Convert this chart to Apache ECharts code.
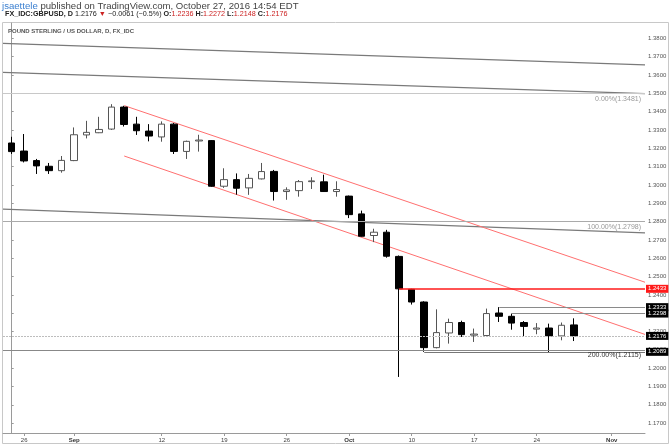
<!DOCTYPE html>
<html><head><meta charset="utf-8">
<script src="https://cdn.jsdelivr.net/npm/echarts@6/dist/echarts.min.js"></script>
<style>html,body{margin:0;padding:0;background:#fff}#c{width:671px;height:447px}</style>
</head><body><div id="c"></div>
<script>
// trading days (index = position on the time scale)
const dates = ['2016-08-25','2016-08-26','2016-08-29','2016-08-30','2016-08-31','2016-09-01','2016-09-02',
 '2016-09-05','2016-09-06','2016-09-07','2016-09-08','2016-09-09','2016-09-12','2016-09-13','2016-09-14',
 '2016-09-15','2016-09-16','2016-09-19','2016-09-20','2016-09-21','2016-09-22','2016-09-23','2016-09-26',
 '2016-09-27','2016-09-28','2016-09-29','2016-09-30','2016-10-03','2016-10-04','2016-10-05','2016-10-06',
 '2016-10-07','2016-10-10','2016-10-11','2016-10-12','2016-10-13','2016-10-14','2016-10-17','2016-10-18',
 '2016-10-19','2016-10-20','2016-10-21','2016-10-24','2016-10-25','2016-10-26','2016-10-27','2016-10-28',
 '2016-10-31','2016-11-01'];
const open  = [1.3229,1.3185,1.3133,1.3102,1.3078,1.3133,1.3273,1.3285,1.3305,1.3425,1.3332,1.3294,1.3262,1.3332,1.3183,1.3240,1.3242,1.2993,1.3029,1.2984,1.3033,1.3074,1.2964,1.2969,1.3018,1.3017,1.2964,1.2939,1.2842,1.2724,1.2742,1.2610,1.2430,1.2361,1.2112,1.2192,1.2249,1.2180,1.2178,1.2301,1.2283,1.2249,1.2213,1.2219,1.2176,1.2236];
const high  = [1.3263,1.3278,1.3142,1.3120,1.3158,1.3314,1.3350,1.3372,1.3441,1.3432,1.3372,1.3332,1.3347,1.3338,1.3242,1.3274,1.3245,1.3091,1.3063,1.3060,1.3120,1.3082,1.2987,1.3027,1.3042,1.3056,1.3020,1.2942,1.2860,1.2761,1.2755,1.2615,1.2433,1.2365,1.2321,1.2270,1.2259,1.2216,1.2325,1.2333,1.2298,1.2257,1.2246,1.2243,1.2249,1.2272];
const low   = [1.3169,1.3123,1.3060,1.3060,1.3067,1.3130,1.3254,1.3283,1.3300,1.3319,1.3273,1.3238,1.3236,1.3169,1.3142,1.3182,1.2990,1.2984,1.2947,1.2946,1.3030,1.2915,1.2919,1.2936,1.2978,1.2962,1.2936,1.2819,1.2718,1.2688,1.2603,1.1952,1.2347,1.2089,1.2108,1.2134,1.2170,1.2143,1.2175,1.2252,1.2210,1.2174,1.2185,1.2085,1.2152,1.2148];
const close = [1.3182,1.3131,1.3104,1.3078,1.3134,1.3274,1.3287,1.3303,1.3425,1.3330,1.3296,1.3267,1.3332,1.3183,1.3238,1.3245,1.2993,1.3029,1.2982,1.3036,1.3073,1.2964,1.2973,1.3018,1.3022,1.2964,1.2975,1.2838,1.2720,1.2742,1.2611,1.2433,1.2361,1.2112,1.2194,1.2249,1.2183,1.2186,1.2298,1.2283,1.2246,1.2228,1.2219,1.2176,1.2234,1.2176];

// x-axis tick labels
const xTickDates  = ['2016-08-26','2016-09-01','2016-09-12','2016-09-19','2016-09-26','2016-10-03','2016-10-10','2016-10-17','2016-10-24','2016-11-01'];
const xTickLabels = ['26','Sep','12','19','26','Oct','10','17','24','Nov'];
// y-axis tick labels
const yTicks = [1.17,1.18,1.19,1.20,1.21,1.22,1.23,1.24,1.25,1.26,1.27,1.28,1.29,1.30,1.31,1.32,1.33,1.34,1.35,1.36,1.37,1.38];

// visible range (time index / price)
const xRange = [-0.696, 50.66];
const yRange = [1.1646, 1.3884];

// drawn trend lines: [startIndex, startPrice, endIndex, endPrice]
const greyLines = [[-0.696,1.3773,50.66,1.3655],[-0.696,1.3615,50.66,1.3499],[-0.696,1.2868,50.66,1.2738]];
const redChannel = [[9,1.3433,50.66,1.2469],[9,1.3158,50.66,1.2184]];
// fibonacci levels
const fibNames  = ['0.00%','100.00%','200.00%'];
const fibLevels = [1.3481,1.2798,1.2115];
// horizontal levels with price tags (start date, null = full width)
const levelPrices = [1.2433,1.2333,1.2298,1.2176,1.2089];
const levelStart  = ['2016-10-07','2016-10-19','2016-10-20',null,'2016-10-11'];

const idx = d => dates.indexOf(d);
const candleData = open.map((o,i)=>[i,o,close[i],low[i],high[i]]);
const xTickIdx = xTickDates.map(idx);
const labelOf = {}; xTickIdx.forEach((v,i)=>labelOf[v]=xTickLabels[i]);

const levelStyles = [
  {color:'#ff1a1a',width:1.6,type:'solid',bg:'#ff1a1a'},
  {color:'#8a8a8a',width:1.2,type:'solid',bg:'#000'},
  {color:'#8a8a8a',width:1.2,type:'solid',bg:'#000'},
  {color:'#bdbdbd',width:1.2,type:[2,1],bg:'#000'},
  {color:'#777',width:1,type:'solid',bg:'#000'}
];
const fibStyles = [
  {color:'#c8c8c8',text:'#999'},
  {color:'#aaaaaa',text:'#999'},
  {color:'#888888',text:'#333'}
];

const series = [];
greyLines.forEach(l=>series.push({type:'line',data:[[l[0],l[1]],[l[2],l[3]]],symbol:'none',silent:true,
  lineStyle:{color:'#7a7a7a',width:1.3},z:1}));
redChannel.forEach(l=>series.push({type:'line',data:[[l[0],l[1]],[l[2],l[3]]],symbol:'none',silent:true,
  lineStyle:{color:'#ff7070',width:1},z:1}));
series.push({type:'line',data:[],silent:true,z:1,markLine:{symbol:'none',silent:true,animation:false,
  data: fibLevels.map((p,i)=>({yAxis:p,lineStyle:{color:fibStyles[i].color,width:1.2,type:'solid'},
    label:{show:true,position:'insideEndBottom',distance:[4,2],formatter:fibNames[i]+'('+p.toFixed(4)+')',
      fontSize:7,color:fibStyles[i].text,fontFamily:'Liberation Sans, Arial, sans-serif'}}))}});
series.push({type:'candlestick',data:candleData,encode:{x:0,y:[1,2,3,4]},barWidth:7,z:3,
  itemStyle:{color:'#fff',color0:'#000',borderColor:'#555',borderColor0:'#000',borderWidth:1}});
series.push({type:'line',data:[],silent:true,z:4,markLine:{symbol:'none',silent:true,animation:false,
  data: levelPrices.map((p,i)=>[
    {coord:[levelStart[i]?idx(levelStart[i]):xRange[0],p],
     lineStyle:{color:levelStyles[i].color,width:levelStyles[i].width,type:levelStyles[i].type}},
    {coord:[xRange[1],p],
     label:{show:true,position:'end',distance:1,formatter:p.toFixed(4),fontSize:6,lineHeight:7,
       color:'#fff',backgroundColor:levelStyles[i].bg,padding:[1,2,0,2],fontFamily:'Liberation Sans, Arial, sans-serif'}}
  ])}});

const chart = echarts.init(document.getElementById('c'),null,{renderer:'canvas'});
chart.setOption({
  animation:false,
  backgroundColor:'#fff',
  textStyle:{fontFamily:'Liberation Sans, Arial, sans-serif'},
  title:[
    {left:2,top:1,padding:0,text:'{u|jsaettele} published on TradingView.com, October 27, 2016 14:54 EDT',
     textStyle:{fontSize:9.6,fontWeight:'normal',color:'#444',rich:{u:{color:'#3a7fd0',fontSize:9.6}}}},
    {left:5,top:11,padding:0,
     text:'{b|FX_IDC:GBPUSD, D} 1.2176 {r|▼} −0.0061 (−0.5%) {b|O:}{r|1.2236} {b|H:}{r|1.2272} {b|L:}{r|1.2148} {b|C:}{r|1.2176}',
     textStyle:{fontSize:7.2,fontWeight:'normal',color:'#222',
       rich:{b:{fontWeight:'bold',fontSize:7.2,color:'#222'},r:{color:'#cc2222',fontSize:7.2}}}},
    {left:8,top:28,padding:0,text:'POUND STERLING / US DOLLAR, D, FX_IDC',
     textStyle:{fontSize:6,fontWeight:'bold',color:'#555'}}
  ],
  graphic:[{type:'rect',silent:true,z:-1,shape:{x:2.5,y:22.5,width:666,height:421},
    style:{fill:'none',stroke:'#c8c8c8',lineWidth:1}}],
  grid:{left:3,right:26,top:23,bottom:14},
  xAxis:{type:'value',min:xRange[0],max:xRange[1],
    axisLine:{show:true,lineStyle:{color:'#9a9a9a'}},
    axisTick:{show:true,customValues:xTickIdx,length:3,lineStyle:{color:'#9a9a9a'}},
    axisLabel:{customValues:xTickIdx,margin:4,fontSize:6,color:'#444',
      formatter:v=>{const t=labelOf[v]; return /[A-Za-z]/.test(t)?'{m|'+t+'}':t;},
      rich:{m:{fontWeight:'bold',fontSize:6,color:'#333'}}},
    splitLine:{show:false}},
  yAxis:{type:'value',position:'right',min:yRange[0],max:yRange[1],
    axisLine:{show:true,lineStyle:{color:'#9a9a9a'}},
    axisTick:{show:true,customValues:yTicks,length:2,lineStyle:{color:'#9a9a9a'}},
    axisLabel:{customValues:yTicks,margin:3,fontSize:6,color:'#555',formatter:v=>v.toFixed(4)},
    splitLine:{show:false}},
  series:series
});
</script></body></html>
